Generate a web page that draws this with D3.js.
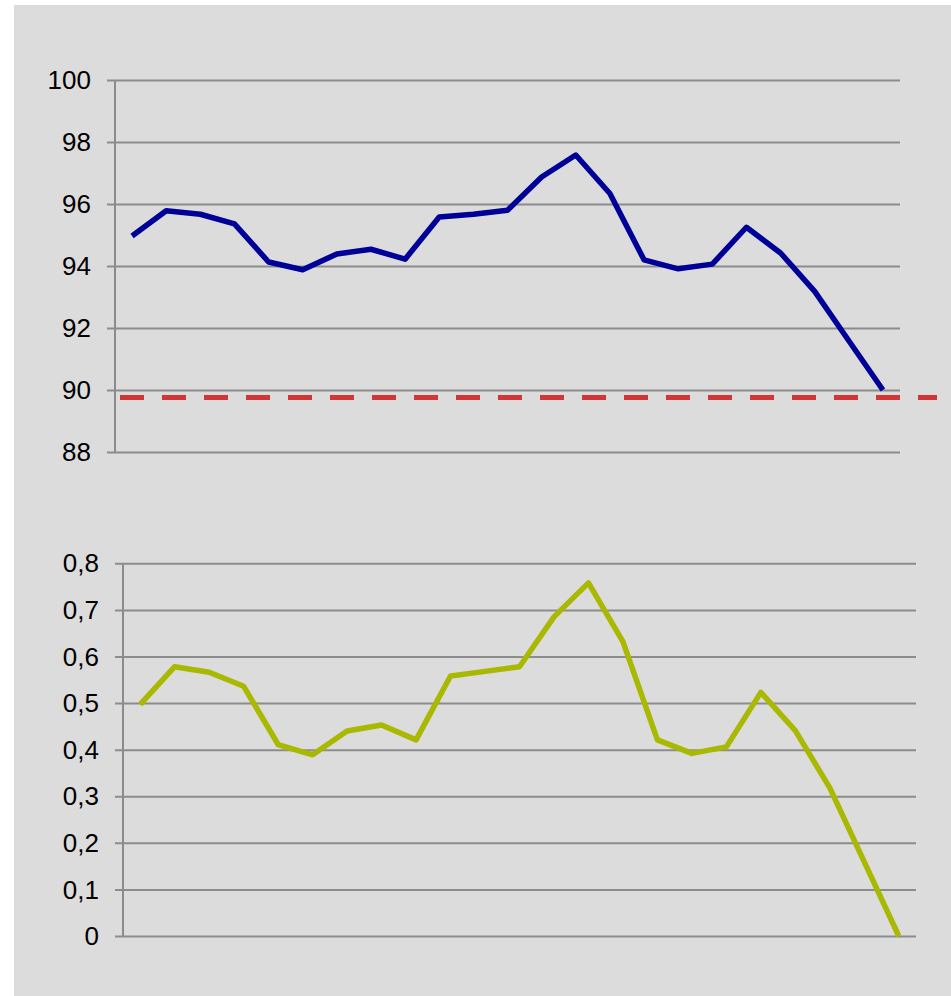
<!DOCTYPE html>
<html>
<head>
<meta charset="utf-8">
<script src="https://cdn.jsdelivr.net/npm/d3@7"></script>
<style>
	body { margin: 0; background: #fff; }
	svg { display: block; }
</style>
</head>
<body>
<div id="chart"></div>
<script>
// one category per period, 23 of them, no labels shown
const periods = d3.range(1, 24).map(String);

const topValues = [94.97, 95.78, 95.67, 95.36, 94.13, 93.88, 94.39, 94.54, 94.22,
	95.58, 95.67, 95.8, 96.87, 97.58, 96.34, 94.2, 93.91, 94.06, 95.25, 94.42,
	93.18, 91.59, 90.0];
const topTicks = [88, 90, 92, 94, 96, 98, 100];
const threshold = 89.76;

const bottomValues = [0.497, 0.578, 0.566, 0.536, 0.411, 0.389, 0.44, 0.453, 0.421,
	0.558, 0.568, 0.578, 0.685, 0.758, 0.632, 0.421, 0.392, 0.406, 0.523, 0.441,
	0.318, 0.159, 0.0];
const bottomTicks = [0, 0.1, 0.2, 0.3, 0.4, 0.5, 0.6, 0.7, 0.8];

const width = 951;
const height = 996;

const svg = d3.select('#chart').append('svg')
	.attr('width', width)
	.attr('height', height);

svg.append('rect')
	.attr('x', 14).attr('y', 5)
	.attr('width', width - 14).attr('height', height - 5)
	.attr('fill', '#dcdcdc');

const comma = d3.formatLocale({decimal: ',', thousands: '.', grouping: [3], currency: ['', '']});

function panel(opts) {
	const x = d3.scaleBand().domain(periods).range([opts.left, opts.right]);
	const y = d3.scaleLinear().domain(opts.domain).range([opts.bottom, opts.top]);

	const g = svg.append('g');

	// gridlines + y ticks
	const yAxis = d3.axisLeft(y)
		.tickValues(opts.ticks)
		.tickSize(-(opts.right - opts.left))
		.tickSizeOuter(0)
		.tickPadding(0)
		.tickFormat(opts.format);

	const yAxisG = g.append('g')
		.attr('transform', 'translate(' + opts.left + ',0)')
		.call(yAxis);
	yAxisG.select('.domain').remove();
	yAxisG.selectAll('.tick line')
		.attr('x1', -8)
		.attr('stroke', '#8c8c8c')
		.attr('stroke-width', 2);
	yAxisG.selectAll('.tick text')
		.attr('x', -24)
		.attr('dy', '0.33em')
		.attr('fill', '#000')
		.style('font-family', '"Liberation Sans", Arial, sans-serif')
		.style('font-size', '26px');

	// vertical axis line
	g.append('line')
		.attr('x1', opts.left).attr('x2', opts.left)
		.attr('y1', y(opts.domain[1])).attr('y2', y(opts.domain[0]))
		.attr('stroke', '#8c8c8c')
		.attr('stroke-width', 2);

	const line = d3.line()
		.x((d, i) => x(periods[i]) + x.bandwidth() / 2)
		.y(d => y(d));

	g.append('path')
		.datum(opts.values)
		.attr('fill', 'none')
		.attr('stroke', opts.color)
		.attr('stroke-width', 5.5)
		.attr('stroke-linejoin', 'round')
		.attr('d', line);

	return {x, y, g};
}

const topPanel = panel({
	left: 115, right: 900, top: 80, bottom: 452,
	domain: [88, 100], ticks: topTicks,
	format: d3.format('d'),
	values: topValues, color: '#000099'
});

// dashed threshold line
topPanel.g.append('line')
	.attr('x1', 120).attr('x2', 937)
	.attr('y1', topPanel.y(threshold)).attr('y2', topPanel.y(threshold))
	.attr('stroke', '#d13636')
	.attr('stroke-width', 5)
	.attr('stroke-dasharray', '24,18');

panel({
	left: 123, right: 916, top: 563.3, bottom: 936,
	domain: [0, 0.8], ticks: bottomTicks,
	format: comma.format('.1~f'),
	values: bottomValues, color: '#a9b800'
});
</script>
</body>
</html>
